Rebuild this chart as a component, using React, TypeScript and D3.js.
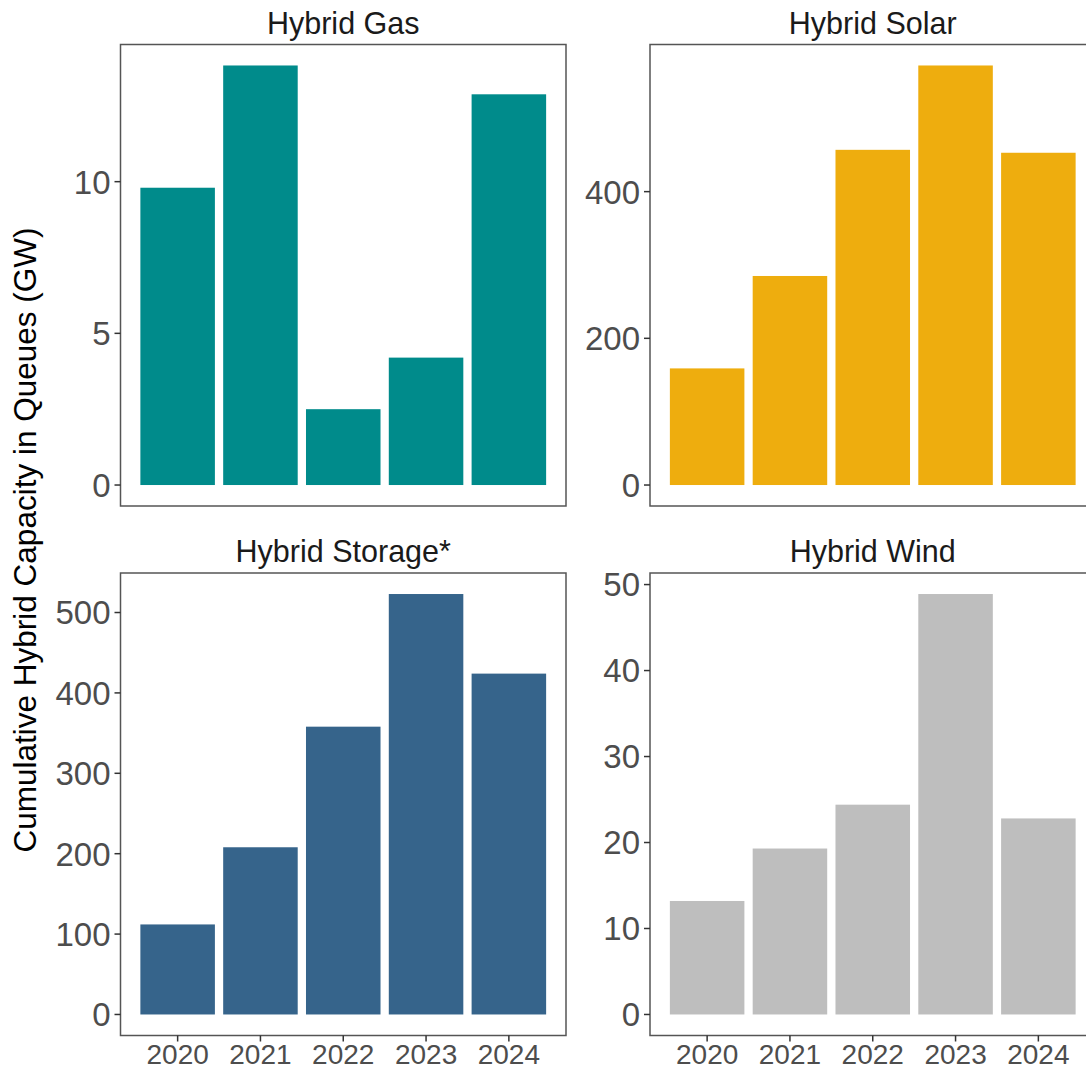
import React from "react";
import * as d3 from "d3";

const years = ["2020", "2021", "2022", "2023", "2024"];

const gasValues = [9.8, 13.83, 2.5, 4.2, 12.88];
const solarValues = [159, 285, 457, 572, 453];
const storageValues = [112, 208, 358, 523, 424];
const windValues = [13.2, 19.3, 24.4, 48.9, 22.8];

const gasTicks = [0, 5, 10];
const solarTicks = [0, 200, 400];
const storageTicks = [0, 100, 200, 300, 400, 500];
const windTicks = [0, 10, 20, 30, 40, 50];

const panelTitles = ["Hybrid Gas", "Hybrid Solar", "Hybrid Storage*", "Hybrid Wind"];
const yAxisTitle = "Cumulative Hybrid Capacity in Queues (GW)";

const W = 1086;
const H = 1070;
const font = "'Liberation Sans', Arial, Helvetica, sans-serif";

// layout of the 2x2 facet grid
const cols = [
  { x0: 120.5, x1: 566 },
  { x0: 650, x1: 1095.5 },
];
const rows = [
  { y0: 44.5, y1: 506 },
  { y0: 573, y1: 1035.5 },
];

const panels = [
  { title: panelTitles[0], values: gasValues, ticks: gasTicks, color: "#008B8B", col: 0, row: 0 },
  { title: panelTitles[1], values: solarValues, ticks: solarTicks, color: "#EEAD0E", col: 1, row: 0 },
  { title: panelTitles[2], values: storageValues, ticks: storageTicks, color: "#36648B", col: 0, row: 1 },
  { title: panelTitles[3], values: windValues, ticks: windTicks, color: "#BEBEBE", col: 1, row: 1 },
];

function Panel({ p }) {
  const { x0, x1 } = cols[p.col];
  const { y0, y1 } = rows[p.row];
  const max = d3.max(p.values);

  const x = d3.scaleBand().domain(years).range([x0, x1]).paddingInner(0.1).paddingOuter(0.24);
  const y = d3
    .scaleLinear()
    .domain([-0.05 * max, 1.05 * max])
    .range([y1, y0]);

  const showX = p.row === 1;

  return (
    <g>
      <text
        x={(x0 + x1) / 2}
        y={y0 - 11}
        textAnchor="middle"
        fontSize={30.5}
        fill="#1A1A1A"
        fontFamily={font}
      >
        {p.title}
      </text>
      {p.values.map((v, i) => (
        <rect
          key={years[i]}
          x={x(years[i])}
          width={x.bandwidth()}
          y={y(v)}
          height={y(0) - y(v)}
          fill={p.color}
        />
      ))}
      <rect x={x0} y={y0} width={x1 - x0} height={y1 - y0} fill="none" stroke="#555" strokeWidth={1.5} />
      {p.ticks.map((t) => (
        <g key={t} transform={`translate(0,${y(t)})`}>
          <line x1={x0 - 6} x2={x0} stroke="#333" strokeWidth={1.5} />
          <text
            x={x0 - 10}
            dy="0.36em"
            textAnchor="end"
            fontSize={33}
            fill="#4D4D4D"
            fontFamily={font}
          >
            {t}
          </text>
        </g>
      ))}
      {showX &&
        years.map((yr) => (
          <g key={yr} transform={`translate(${x(yr) + x.bandwidth() / 2},${y1})`}>
            <line y1={0} y2={6} stroke="#333" strokeWidth={1.5} />
            <text y={28} textAnchor="middle" fontSize={28} fill="#4D4D4D" fontFamily={font}>
              {yr}
            </text>
          </g>
        ))}
    </g>
  );
}

export default function App() {
  return (
    <svg
      width={W}
      height={H}
      style={{ position: "absolute", left: 0, top: 0, display: "block", background: "#fff" }}
    >
      <rect width={W} height={H} fill="#fff" />
      {panels.map((p) => (
        <Panel key={p.title} p={p} />
      ))}
      <text
        transform={`translate(36,540) rotate(-90)`}
        textAnchor="middle"
        fontSize={31.5}
        fill="#000"
        fontFamily={font}
      >
        {yAxisTitle}
      </text>
    </svg>
  );
}
